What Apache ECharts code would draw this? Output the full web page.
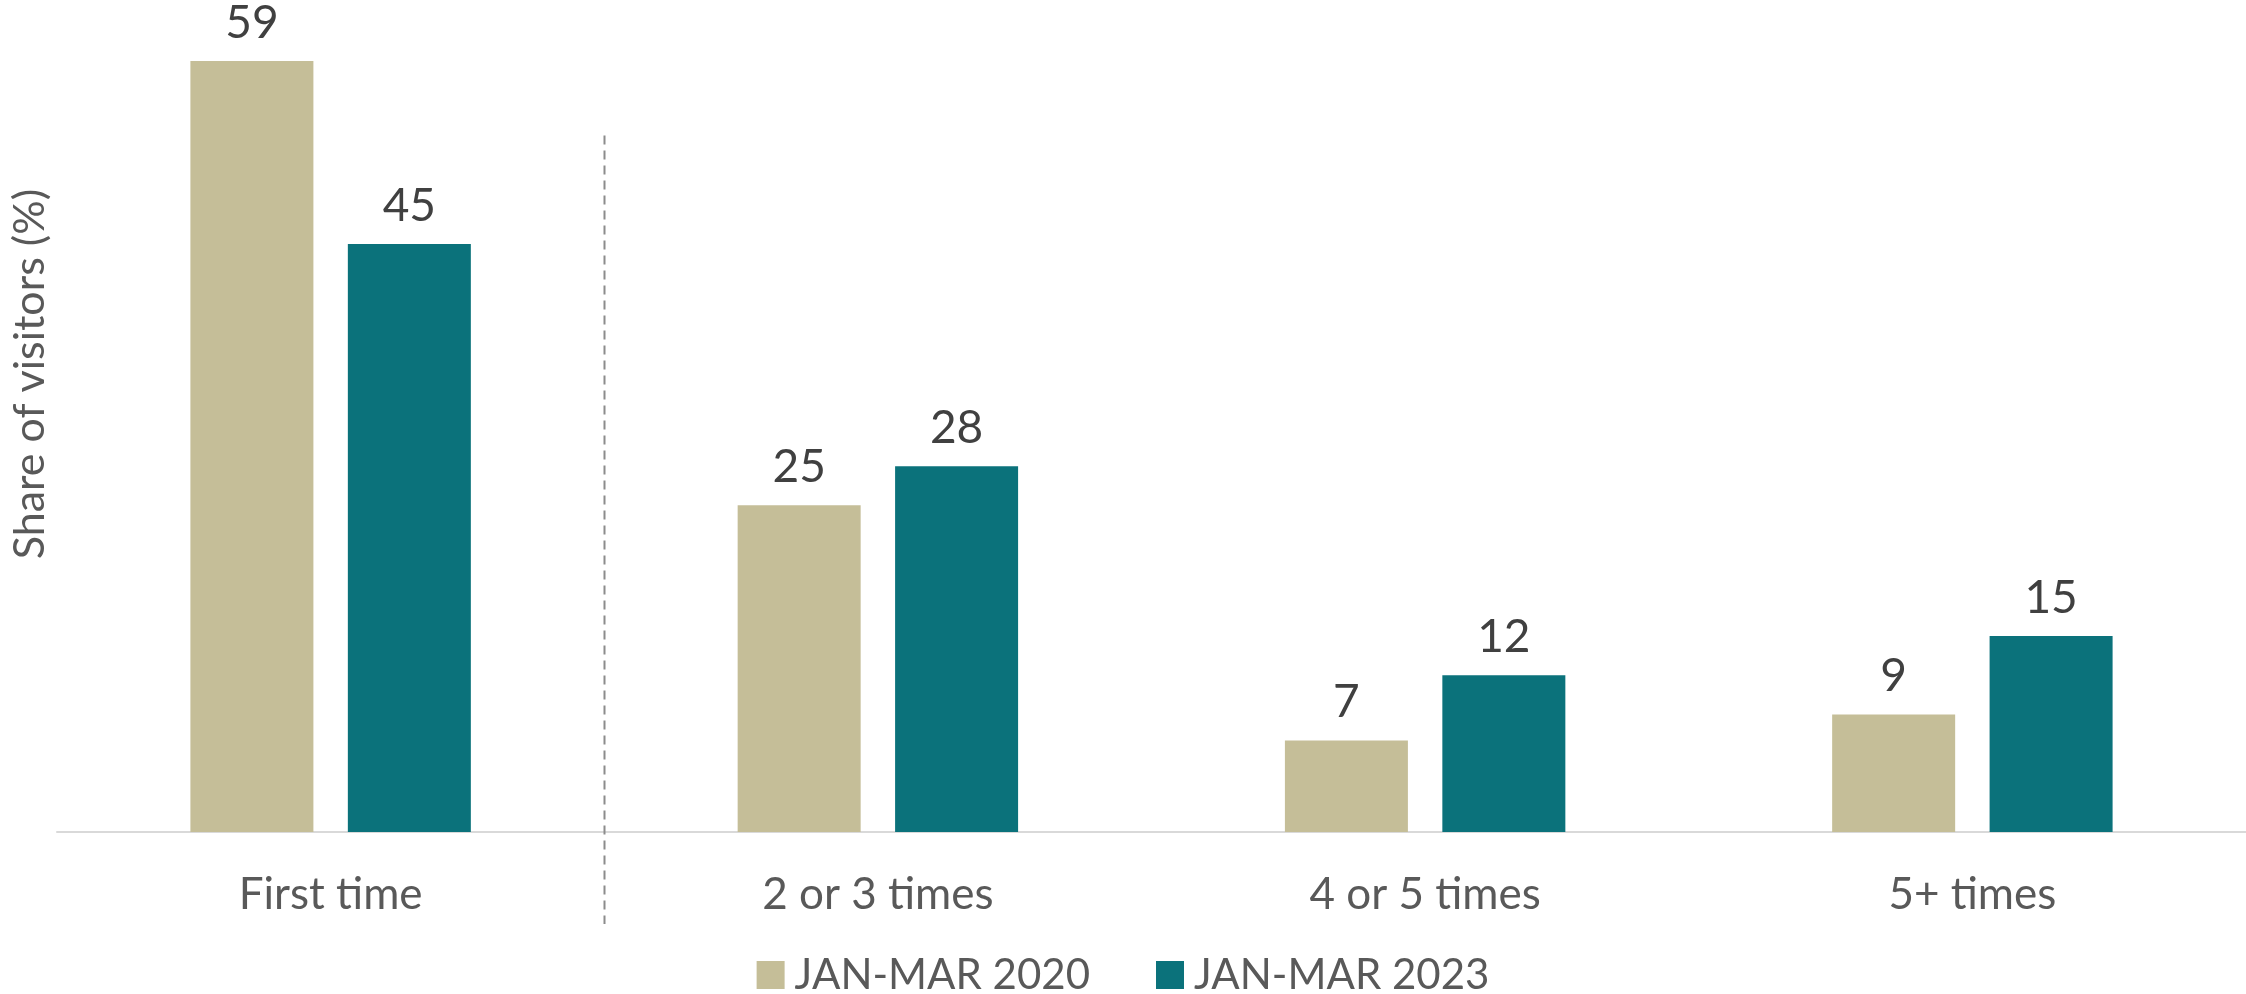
<!DOCTYPE html>
<html>
<head>
<meta charset="utf-8">
<title>Share of visitors by visit frequency</title>
<script src="https://cdn.jsdelivr.net/npm/echarts@6/dist/echarts.min.js"></script>
<style>
  html, body { margin: 0; padding: 0; background: #ffffff; }
  #chart { width: 2246px; height: 994px; }
</style>
</head>
<body>
<div id="chart"></div>
<script>
// Visit frequency categories and the share of visitors (%) in each period
const categories = ['First time', '2 or 3 times', '4 or 5 times', '5+ times'];
const seriesNames = ['JAN-MAR 2020', 'JAN-MAR 2023'];
const values2020 = [59, 25, 7, 9];
const values2023 = [45, 28, 12, 15];
const yAxisTitle = 'Share of visitors (%)';

const FONT = 'Lato, "Open Sans", sans-serif';
const COLOR_2020 = '#c5be98';
const COLOR_2023 = '#0b727b';

const chart = echarts.init(document.getElementById('chart'), null, { renderer: 'canvas' });

const labelStyle = {
  show: true,
  position: 'top',
  distance: 15,
  color: '#404040',
  fontFamily: FONT,
  fontSize: 46
};

chart.setOption({
  animation: false,
  backgroundColor: '#ffffff',
  grid: { left: 57, right: 0, top: 48, bottom: 162, containLabel: false },
  legend: {
    data: seriesNames,
    left: 'center',
    top: 954,
    icon: 'rect',
    itemWidth: 28,
    itemHeight: 28,
    itemGap: 66,
    padding: 0,
    textStyle: { color: '#595959', fontFamily: FONT, fontSize: 42, padding: [0, 0, 0, 5] }
  },
  xAxis: {
    type: 'category',
    data: categories,
    boundaryGap: true,
    axisLine: { show: true, lineStyle: { color: '#d9d9d9', width: 2 } },
    axisTick: { show: false },
    axisLabel: { color: '#595959', fontFamily: FONT, fontSize: 44, margin: 41 },
    splitLine: { show: false }
  },
  yAxis: {
    type: 'value',
    min: 0,
    max: 60,
    show: false
  },
  series: [
    {
      name: seriesNames[0],
      type: 'bar',
      data: values2020,
      barWidth: 123,
      barGap: '28%',
      itemStyle: { color: COLOR_2020 },
      label: labelStyle
    },
    {
      name: seriesNames[1],
      type: 'bar',
      data: values2023,
      barWidth: 123,
      barGap: '28%',
      itemStyle: { color: COLOR_2023 },
      label: labelStyle
    }
  ]
});

// Dashed divider between "First time" and the repeat-visit groups,
// plus the rotated y-axis title.
function drawExtras() {
  const x0 = chart.convertToPixel({ xAxisIndex: 0 }, 0);
  const x1 = chart.convertToPixel({ xAxisIndex: 0 }, 1);
  const xDiv = Math.round((x0 + x1) / 2) + 0.5;
  const yTop = chart.convertToPixel({ yAxisIndex: 0 }, 53.3);
  const yBase = chart.convertToPixel({ yAxisIndex: 0 }, 0);
  chart.setOption({
    graphic: [
      {
        type: 'line',
        id: 'divider',
        silent: true,
        shape: { x1: xDiv, y1: yTop, x2: xDiv, y2: yBase + 92 },
        style: { stroke: '#8c8c8c', lineWidth: 2, lineDash: [9, 6] },
        z: 10
      },
      {
        type: 'text',
        id: 'ytitle',
        silent: true,
        x: 30,
        y: 374,
        rotation: Math.PI / 2,
        style: {
          text: yAxisTitle,
          fill: '#595959',
          font: '43px ' + FONT,
          align: 'center',
          verticalAlign: 'middle'
        }
      }
    ]
  });
}
drawExtras();
</script>
</body>
</html>
